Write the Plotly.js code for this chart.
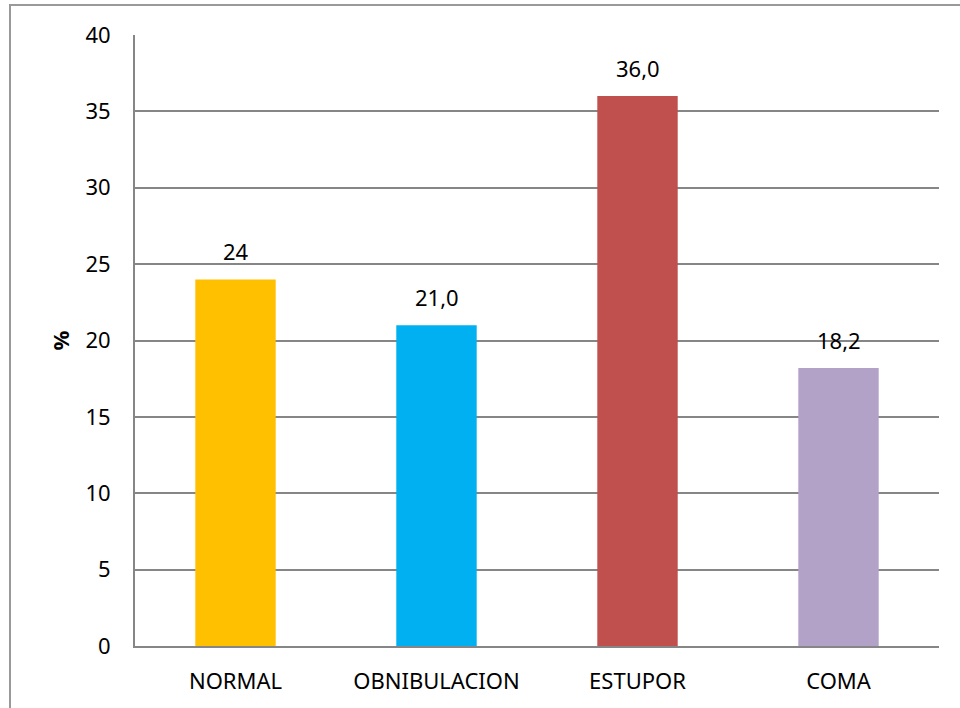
<!DOCTYPE html>
<html>
<head>
<meta charset="utf-8">
<script src="https://cdn.plot.ly/plotly-3.0.1.min.js"></script>
<style>
  body { margin: 0; padding: 0; background: #fff; }
  #wrap { position: relative; width: 960px; height: 708px; overflow: hidden; }
  #chart { position: absolute; left: 0; top: 0; width: 960px; height: 708px; }
  #frame { position: absolute; left: 9px; top: 4px; width: 1000px; height: 800px;
           border-left: 2px solid #999; border-top: 2px solid #999; pointer-events: none; }
</style>
</head>
<body>
<div id="wrap">
  <div id="chart"></div>
  <div id="frame"></div>
</div>
<script>
const categories = ["NORMAL", "OBNIBULACION", "ESTUPOR", "COMA"];
const values = [24, 21.0, 36.0, 18.2];
const valueLabels = ["24", "21,0", "36,0", "18,2"];
const barColors = ["#FFC000", "#00B0F0", "#C0504D", "#B2A2C7"];
const yTicks = [0, 5, 10, 15, 20, 25, 30, 35, 40];

const font = "'Noto Sans', 'Open Sans', sans-serif";
const fs = 22;

const trace = {
  type: "bar",
  x: categories,
  y: values,
  marker: { color: barColors },
  width: 0.4,
  hoverinfo: "none"
};

const annotations = categories.map((c, i) => ({
  x: c, y: values[i], text: valueLabels[i],
  xref: "x", yref: "y", showarrow: false,
  yshift: 28, font: { family: font, size: fs, color: "#000" }
}));

const layout = {
  width: 960, height: 708,
  margin: { l: 135, r: 21, t: 35, b: 62 },
  paper_bgcolor: "#fff", plot_bgcolor: "#fff",
  showlegend: false,
  bargap: 0.6,
  font: { family: font, size: fs, color: "#000" },
  xaxis: {
    type: "category",
    showgrid: false,
    showline: true, linecolor: "#868686", linewidth: 2,
    ticks: "outside", ticklen: 15, tickcolor: "rgba(0,0,0,0)",
    tickfont: { family: font, size: fs, color: "#000" },
    fixedrange: true
  },
  yaxis: {
    range: [0, 40],
    tickvals: yTicks,
    ticktext: yTicks.map(String),
    showgrid: true, gridcolor: "#868686", gridwidth: 2,
    showline: true, linecolor: "#868686", linewidth: 2,
    zeroline: false,
    ticks: "outside", ticklen: 18, tickcolor: "rgba(0,0,0,0)",
    tickfont: { family: font, size: fs, color: "#000" },
    title: { text: "<b>%</b>", font: { family: font, size: fs, color: "#000" }, standoff: 10 },
    fixedrange: true
  },
  annotations: annotations
};

Plotly.newPlot("chart", [trace], layout, { displayModeBar: false, staticPlot: true });
</script>
</body>
</html>
